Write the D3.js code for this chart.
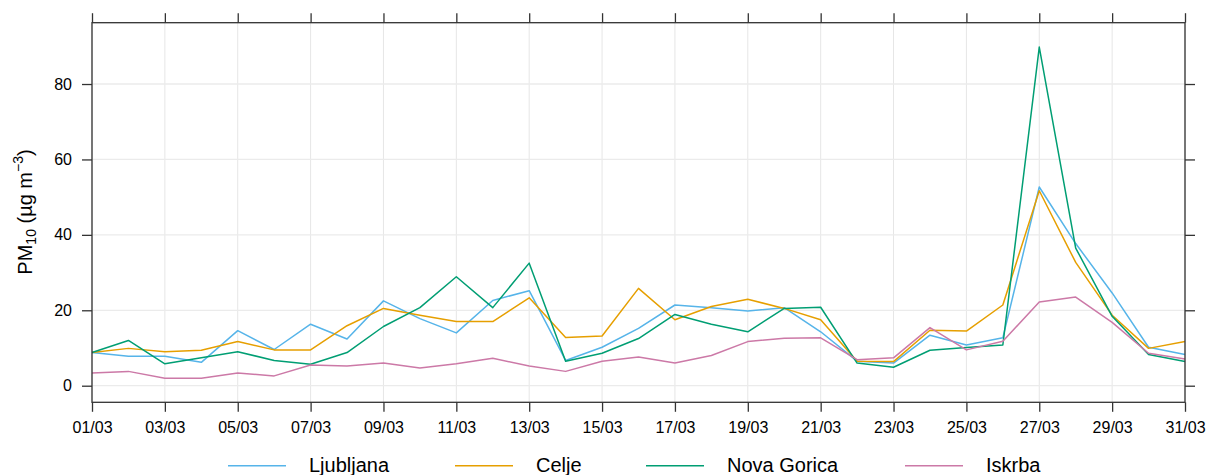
<!DOCTYPE html>
<html>
<head>
<meta charset="utf-8">
<script src="https://cdn.jsdelivr.net/npm/d3@7"></script>
<style>
  html, body { margin: 0; padding: 0; background: #fff; }
  svg { display: block; font-family: Arial, "Liberation Sans", sans-serif; }
</style>
</head>
<body>
<svg id="chart" width="1208" height="475"></svg>
<script>
const dates = ["2024-03-01","2024-03-02","2024-03-03","2024-03-04","2024-03-05","2024-03-06","2024-03-07","2024-03-08","2024-03-09","2024-03-10",
  "2024-03-11","2024-03-12","2024-03-13","2024-03-14","2024-03-15","2024-03-16","2024-03-17","2024-03-18","2024-03-19","2024-03-20",
  "2024-03-21","2024-03-22","2024-03-23","2024-03-24","2024-03-25","2024-03-26","2024-03-27","2024-03-28","2024-03-29","2024-03-30","2024-03-31"];

const ljubljana = [8.8,7.8,7.8,6.2,14.6,9.6,16.3,12.4,22.5,17.8,14.0,22.6,25.2,6.7,10.2,15.2,21.4,20.7,19.8,20.7,14.3,6.5,6.0,13.4,10.8,12.7,52.7,37.7,24.6,10.2,8.3];
const celje     = [8.8,9.9,9.0,9.4,11.7,9.5,9.5,15.9,20.5,18.7,17.0,17.0,23.3,12.8,13.2,25.8,17.5,21.0,22.9,20.5,17.5,6.5,6.4,14.7,14.5,21.4,51.7,32.7,18.7,9.9,11.7];
const novaGorica= [8.8,12.0,5.8,7.4,9.0,6.7,5.7,8.8,15.7,20.7,28.9,20.7,32.5,6.5,8.6,12.5,18.9,16.3,14.3,20.5,20.8,6.0,4.9,9.4,10.1,10.8,89.8,36.5,18.4,8.3,6.4];
const iskrba    = [3.4,3.8,2.0,2.0,3.4,2.6,5.5,5.2,6.0,4.7,5.8,7.3,5.2,3.8,6.5,7.6,6.0,8.0,11.7,12.6,12.7,6.9,7.4,15.4,9.5,11.8,22.2,23.5,16.8,8.6,7.1];

const seriesNames = ["Ljubljana","Celje","Nova Gorica","Iskrba"];
const seriesColors = ["#56B4E9","#E69F00","#009E73","#CC79A7"];
const yTicks = [0,20,40,60,80];

(function () {
const parse = d3.timeParse("%Y-%m-%d");
const xDates = dates.map(parse);
const allSeries = [ljubljana, celje, novaGorica, iskrba];

const svg = d3.select("#chart");
const L = 92, R = 1185, T = 22.7, B = 402.3;

const x = d3.scaleTime().domain(d3.extent(xDates)).range([L, R]);
const y = d3.scaleLinear().domain([-4.4, 96.26]).range([B, T]);

const xTickDates = xDates.filter((d, i) => i % 2 === 0);
const fmt = d3.timeFormat("%d/%m");

// grid
const grid = svg.append("g");
grid.selectAll("line.v").data(xTickDates).enter().append("line")
  .attr("x1", d => x(d)).attr("x2", d => x(d)).attr("y1", T).attr("y2", B)
  .attr("stroke", "#e6e6e6").attr("stroke-width", 1);
grid.selectAll("line.h").data(yTicks).enter().append("line")
  .attr("x1", L).attr("x2", R).attr("y1", d => y(d)).attr("y2", d => y(d))
  .attr("stroke", "#ebebeb").attr("stroke-width", 1.3);

// series
const line = d3.line().x((d, i) => x(xDates[i])).y(d => y(d));
allSeries.forEach((s, k) => {
  svg.append("path").datum(s).attr("d", line)
    .attr("fill", "none").attr("stroke", seriesColors[k]).attr("stroke-width", 1.5)
    .attr("stroke-linejoin", "round");
});

// axes
const axCol = "#333";
const gBottom = svg.append("g").attr("transform", `translate(0,${B})`)
  .call(d3.axisBottom(x).tickValues(xTickDates).tickFormat(fmt).tickSize(9.5).tickPadding(10));
const gTop = svg.append("g").attr("transform", `translate(0,${T})`)
  .call(d3.axisTop(x).tickValues(xTickDates).tickFormat("").tickSize(9.5));
const gLeft = svg.append("g").attr("transform", `translate(${L},0)`)
  .call(d3.axisLeft(y).tickValues(yTicks).tickSize(10).tickPadding(10));
const gRight = svg.append("g").attr("transform", `translate(${R},0)`)
  .call(d3.axisRight(y).tickValues(yTicks).tickFormat("").tickSize(10));
[gBottom, gTop, gLeft, gRight].forEach(g => {
  g.select(".domain").remove();
  g.selectAll(".tick line").attr("stroke", axCol).attr("stroke-width", 1.3);
  g.selectAll("text").attr("fill", "#000").style("font-size", "16px")
    .style("font-family", "Arial, 'Liberation Sans', sans-serif");
});
gBottom.selectAll("text").attr("dy", "0.71em");

// frame
svg.append("rect").attr("x", L).attr("y", T).attr("width", R - L).attr("height", B - T)
  .attr("fill", "none").attr("stroke", axCol).attr("stroke-width", 1.3);

// y label
const yl = svg.append("text")
  .attr("transform", "translate(31.5,212) rotate(-90)")
  .attr("text-anchor", "middle")
  .style("font-size", "20px").attr("fill", "#000");
yl.append("tspan").text("PM");
yl.append("tspan").text("10").style("font-size", "14px").attr("dy", "4");
yl.append("tspan").text(" (µg m").attr("dy", "-4");
yl.append("tspan").text("−3").style("font-size", "14px").attr("dy", "-9");
yl.append("tspan").text(")").attr("dy", "9");

// legend
const legendX = [228, 455, 646, 905];
const lg = svg.append("g");
seriesNames.forEach((n, k) => {
  lg.append("line").attr("x1", legendX[k]).attr("x2", legendX[k] + 58)
    .attr("y1", 465.7).attr("y2", 465.7)
    .attr("stroke", seriesColors[k]).attr("stroke-width", 1.5);
  lg.append("text").attr("x", legendX[k] + 81).attr("y", 472)
    .style("font-size", "20px").attr("fill", "#000").text(n);
});
})();
</script>
</body>
</html>
